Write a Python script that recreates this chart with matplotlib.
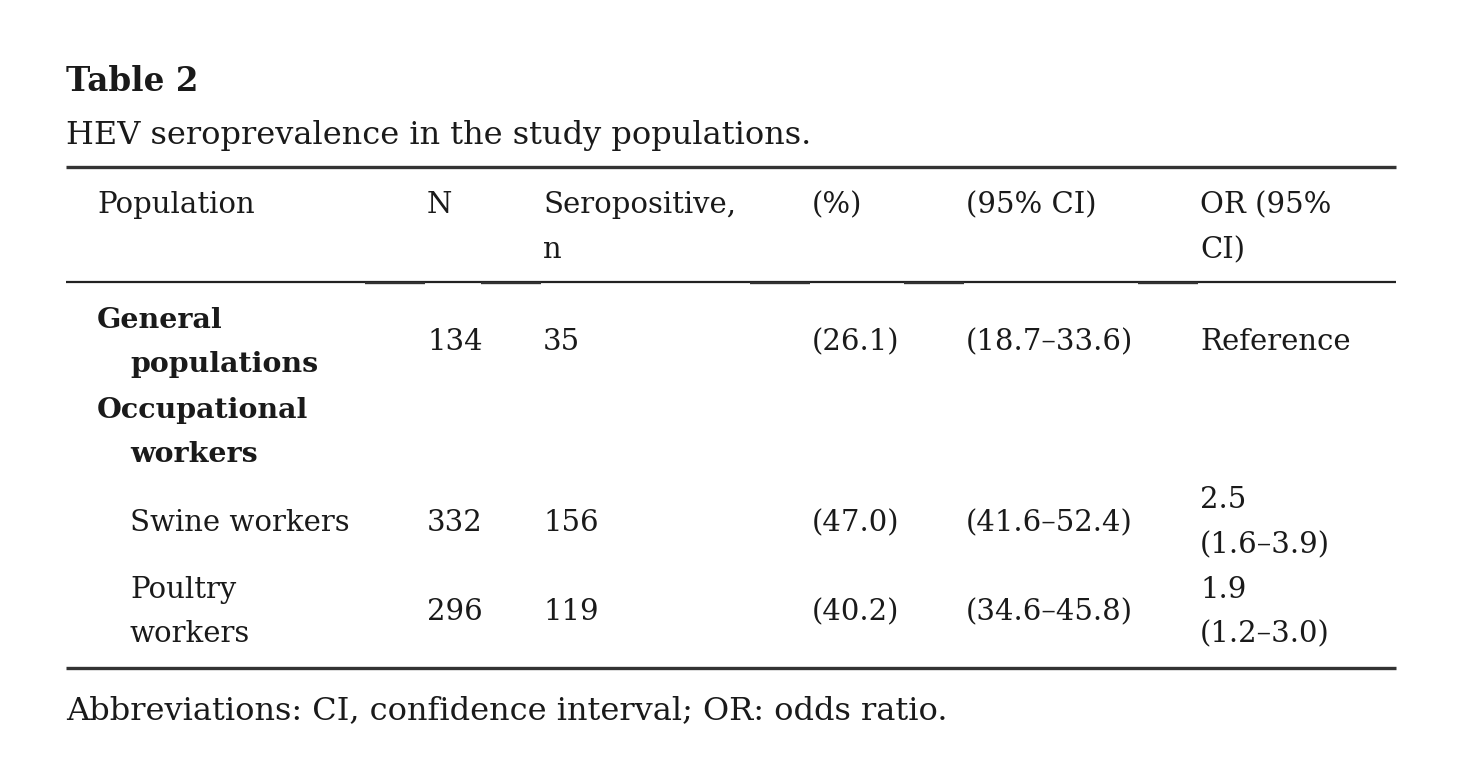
import matplotlib
matplotlib.use('Agg')
import matplotlib.pyplot as plt

# Datos de la tabla
titulo = 'Table 2'
subtitulo = 'HEV seroprevalence in the study populations.'
encabezados = ['Population', 'N', 'Seropositive,\nn', '(%)', '(95% CI)', 'OR (95%\nCI)']
grupos = [('General', 'populations'), ('Occupational', 'workers')]
poblaciones = ['Swine workers', 'Poultry\nworkers']
N = [134, 332, 296]
seropositivos = [35, 156, 119]
porcentaje = ['(26.1)', '(47.0)', '(40.2)']
ic95 = ['(18.7–33.6)', '(41.6–52.4)', '(34.6–45.8)']
odds_ratio = ['Reference', '2.5\n(1.6–3.9)', '1.9\n(1.2–3.0)']
nota = 'Abbreviations: CI, confidence interval; OR: odds ratio.'

plt.rcParams['font.family'] = ['DejaVu Serif']
color_txt = '#1a1a1a'
fs = 21
fs_b = 20.5
paso = 45  # separación entre líneas

fig = plt.figure(figsize=(14.64, 7.80), dpi=100)
ax = fig.add_axes([0, 0, 1, 1])
ax.set_xlim(0, 1464)
ax.set_ylim(780, 0)
ax.axis('off')

col_x = [97, 427, 543, 812, 966, 1200]


def texto(x, y, s, size=fs, peso='normal'):
    # cada línea por separado para controlar el interlineado
    lineas = s.split('\n')
    y0 = y - 3 - paso * (len(lineas) - 1) / 2
    for k, l in enumerate(lineas):
        ax.text(x, y0 + paso * k, l, fontsize=size, fontweight=peso,
                va='center_baseline', color=color_txt)


texto(66, 81, titulo, size=23.5, peso='bold')
texto(66, 135, subtitulo, size=23)

# reglas
ax.hlines(167, 66, 1396, color='#333333', lw=2.4)
ax.hlines(282, 66, 1396, color='#222222', lw=1.6)
for x in col_x[1:]:
    ax.hlines(283, x - 62, x - 2, color='#333333', lw=1.7)
ax.hlines(668, 66, 1396, color='#333333', lw=2.4)

# encabezado
for x, h in zip(col_x, encabezados):
    lineas = h.split('\n')
    for k, l in enumerate(lineas):
        texto(x, 205 + paso * k, l)

# grupos en negrita
texto(97, 320, grupos[0][0], size=fs_b, peso='bold')
texto(130, 365, grupos[0][1], size=fs_b, peso='bold')
texto(97, 410, grupos[1][0], size=fs_b, peso='bold')
texto(130, 455, grupos[1][1], size=fs_b, peso='bold')

# filas
filas_y = [342, 523, 612]
for y, p in zip(filas_y[1:], poblaciones):
    texto(130, y, p)

for i, y in enumerate(filas_y):
    texto(col_x[1], y, str(N[i]))
    texto(col_x[2], y, str(seropositivos[i]))
    texto(col_x[3], y, porcentaje[i])
    texto(col_x[4], y, ic95[i])
    texto(col_x[5], y, odds_ratio[i])

texto(66, 710, nota, size=23)

fig.savefig('out.png', dpi=100, facecolor='white')
